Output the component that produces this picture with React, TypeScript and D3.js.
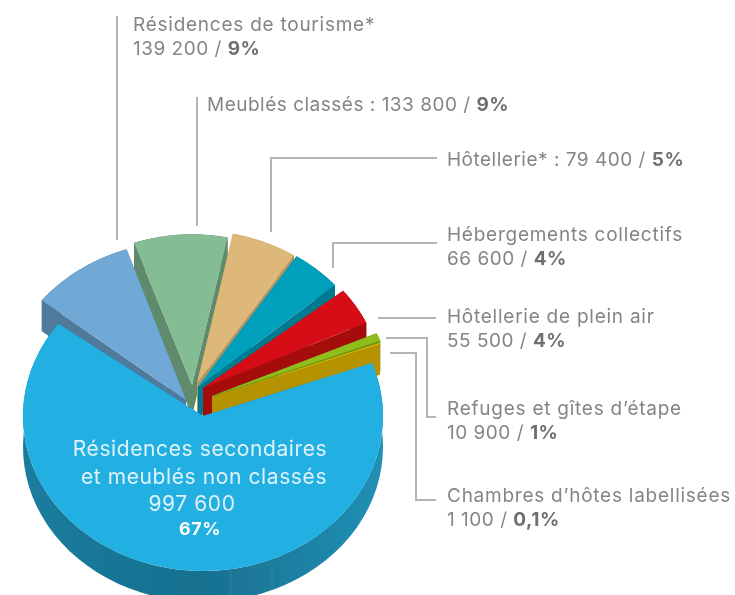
import React from "react";
import * as d3 from "d3";

// ---- data ----
const categories = ["Résidences secondaires et meublés non classés", "Résidences de tourisme*", "Meublés classés", "Hôtellerie*", "Hébergements collectifs", "Hôtellerie de plein air", "Refuges et gîtes d’étape", "Chambres d’hôtes labellisées"];
const values = [997600, 139200, 133800, 79400, 66600, 55500, 10900, 1100];
const valueLabels = ["997 600", "139 200", "133 800", "79 400", "66 600", "55 500", "10 900", "1 100"];
const shares = ["67%", "9%", "9%", "5%", "4%", "4%", "1%", "0,1%"];

// ---- styling and layout ----
const topColors = ["#23b0e2", "#6fa8d6", "#84bc94", "#deb878", "#049fbb", "#d60b14", "#8fbd1d", "#f2cc00"];
const wallColors = ["url(#mainWall)", "#4f7a9c", "#5f8a6c", "#b29560", "#047a90", "#a50a0c", "#6f931a", "#b49200"];
const apexX = [203, 186, 192, 197, 198, 203, 212, 212];
const apexY = [416, 400, 385, 383, 387, 388, 396, 397];
const radii = [180, 185, 175, 177, 181, 180, 180, 179];
// the drawing is hand-tilted: small angle corrections in degrees on each slice edge
const startNudge = [2.5, -0.7, -2.6, -4, -2, 0, 1.5, 2.3];
const endNudge = [-3, -2, -4, -1.8, -2, 0.5, 1.9, 2.3];
const paintOrder = [2, 3, 1, 4, 5, 6, 7, 0];
const tilt = 0.861;
const depth = 31;
const startDeg = 67.5;

const labelX = 447;
const FONT = "Inter, 'Open Sans', sans-serif";
const GREY = "#858585";
const LABEL_SIZE = 19;
const LABEL_SPACING = 0.75;
const VALUE_SPACING = 0.5;
const leaders = [
  [[117, 240], [117, 16]],
  [[197, 226], [197, 97]],
  [[271, 232], [271, 158], [437, 158]],
  [[333, 268], [333, 243], [437, 243]],
  [[378, 318], [436, 318]],
  [[386, 338], [427, 338], [427, 417], [436, 417]],
  [[390, 353], [416, 353], [416, 500], [436, 500]],
];
const seams = [[231, 571, 595], [272, 567, 589]];

const toRad = (d: number) => (d * Math.PI) / 180;
const arcs = d3.pie<number>().sort(null).startAngle(toRad(startDeg)).endAngle(toRad(startDeg + 360))(values);
const lineGen = d3.line();

function Slice({ i }: { i: number }) {
  const a0 = arcs[i].startAngle + toRad(startNudge[i]);
  const a1 = arcs[i].endAngle + toRad(endNudge[i]);
  const cx = apexX[i], cy = apexY[i], r = radii[i];
  const P = (ang: number, rad: number, dy = 0): [number, number] => [cx + rad * Math.sin(ang), cy - tilt * rad * Math.cos(ang) + dy];
  const steps = d3.range(0, 61).map((k) => a0 + ((a1 - a0) * k) / 60);
  const top = d3.arc()({ innerRadius: 0, outerRadius: r, startAngle: a0, endAngle: a1 } as any) as string;
  const outer = [...steps.map((s) => P(s, r)), ...steps.slice().reverse().map((s) => P(s, r, depth))];
  const cut = (ang: number) => [P(0, 0), P(ang, r), P(ang, r, depth), P(0, 0, depth)];
  return (
    <g>
      <path d={lineGen(cut(a0) as any) + "Z"} fill={wallColors[i]} />
      <path d={lineGen(cut(a1) as any) + "Z"} fill={wallColors[i]} />
      <path d={lineGen(outer as any) + "Z"} fill={wallColors[i]} />
      <path d={top} fill={topColors[i]} transform={`translate(${cx},${cy}) scale(1,${tilt})`} />
    </g>
  );
}

function Label({ i, y, inline }: { i: number; y: number; inline?: boolean }) {
  const x = i === 1 ? 133 : i === 2 ? 207 : labelX;
  if (inline) {
    return (
      <text x={x} y={y} fontSize={LABEL_SIZE} letterSpacing={VALUE_SPACING} fill={GREY} fontFamily={FONT}>
        {categories[i]} : {valueLabels[i]} / <tspan fontWeight={700} fill="#6f6f6f">{shares[i]}</tspan>
      </text>
    );
  }
  return (
    <text fontSize={LABEL_SIZE} letterSpacing={LABEL_SPACING} fill={GREY} fontFamily={FONT}>
      <tspan x={x} y={y}>{categories[i]}</tspan>
      <tspan x={x} y={y + 24} letterSpacing={VALUE_SPACING}>{valueLabels[i]} / <tspan fontWeight={700} fill="#6f6f6f">{shares[i]}</tspan></tspan>
    </text>
  );
}

export default function App() {
  return (
    <svg width={735} height={595} viewBox="0 0 735 595" style={{ position: "absolute", left: 0, top: 0, display: "block", background: "#fff" }}>
      <defs>
        <linearGradient id="mainWall" x1="0" y1="0" x2="1" y2="0">
          <stop offset="0" stopColor="#1a7c9e" />
          <stop offset="0.5" stopColor="#18708f" />
          <stop offset="0.8" stopColor="#1e83a6" />
          <stop offset="1" stopColor="#2090b6" />
        </linearGradient>
        <filter id="soft" x="-5%" y="-5%" width="110%" height="110%">
          <feGaussianBlur stdDeviation="0.55" />
        </filter>
      </defs>
      <g filter="url(#soft)">
        {leaders.map((pts, k) => (
          <path key={k} d={lineGen(pts as any) as string} fill="none" stroke="#b4b4b4" strokeWidth={2} />
        ))}
        {paintOrder.map((i) => <Slice key={i} i={i} />)}
        {seams.map(([x, y1, y2]) => (
          <line key={x} x1={x} x2={x} y1={y1} y2={y2} stroke="#2f8fb0" strokeWidth={1} opacity={0.7} />
        ))}
        <Label i={1} y={31} />
        <Label i={2} y={111} inline />
        <Label i={3} y={166} inline />
        <Label i={4} y={241} />
        <Label i={5} y={323} />
        <Label i={6} y={415} />
        <Label i={7} y={502} />
        <g fill="#dff2fa" fontFamily={FONT} textAnchor="middle" letterSpacing={0.6}>
          <text x={200} y={456} fontSize={21}>Résidences secondaires</text>
          <text x={204} y={484} fontSize={21}>et meublés non classés</text>
          <text x={192} y={511} fontSize={21}>{valueLabels[0]}</text>
          <text x={200} y={535} fontSize={18} fontWeight={700} fill="#fff">{shares[0]}</text>
        </g>
      </g>
    </svg>
  );
}
